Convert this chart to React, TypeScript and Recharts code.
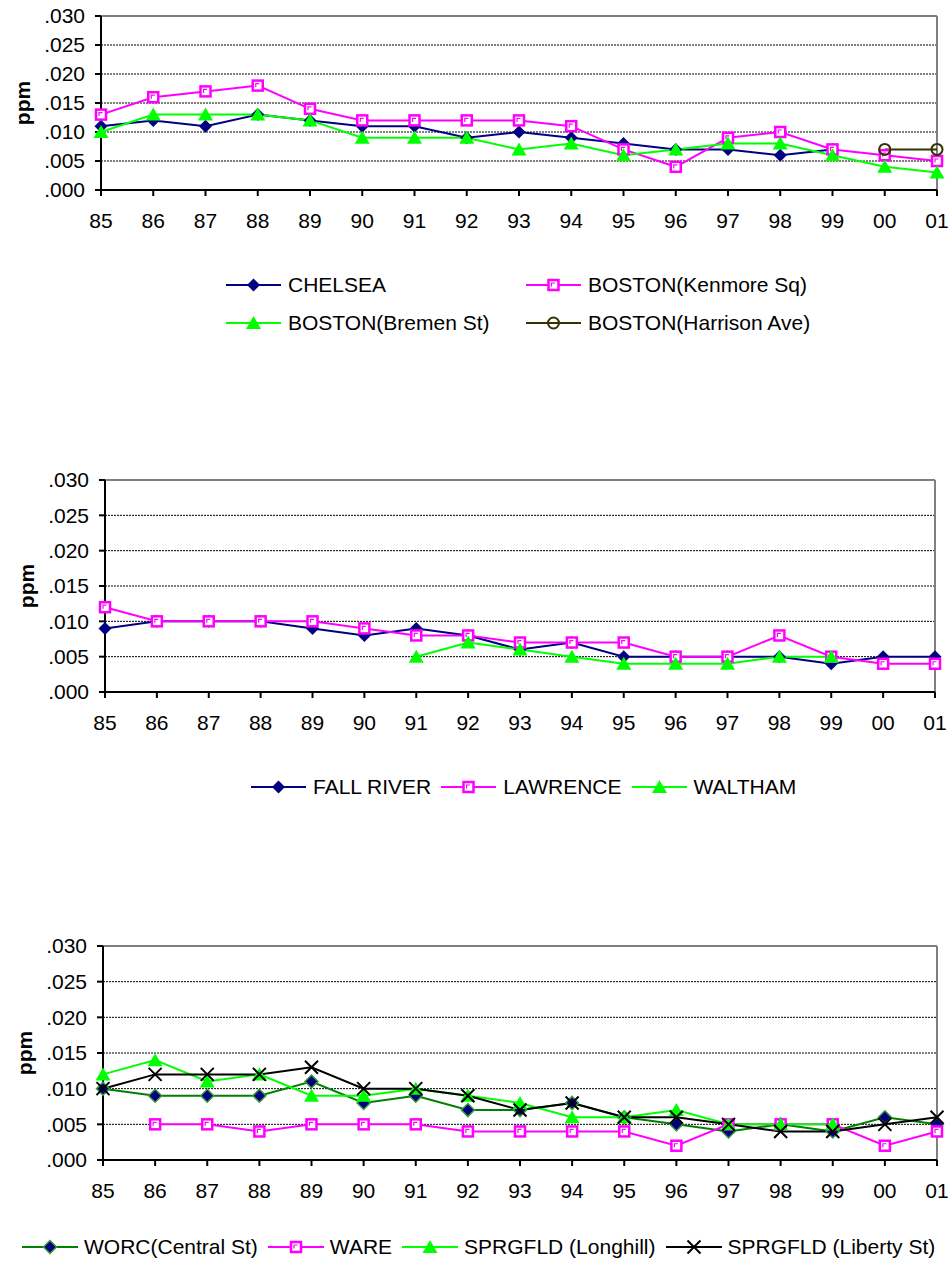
import React from 'react';
import { LineChart, Line, XAxis, YAxis, CartesianGrid, ReferenceLine } from 'recharts';

const FONT = "Arial, 'Liberation Sans', sans-serif";

const years = ['85', '86', '87', '88', '89', '90', '91', '92', '93', '94', '95', '96', '97', '98', '99', '00', '01'];
const ppmTicks = [0, 0.005, 0.01, 0.015, 0.02, 0.025, 0.03];

// Boston area sites
const chelsea = [0.011, 0.012, 0.011, 0.013, 0.012, 0.011, 0.011, 0.009, 0.010, 0.009, 0.008, 0.007, 0.007, 0.006, 0.007, null, null];
const kenmoreSq = [0.013, 0.016, 0.017, 0.018, 0.014, 0.012, 0.012, 0.012, 0.012, 0.011, 0.007, 0.004, 0.009, 0.010, 0.007, 0.006, 0.005];
const bremenSt = [0.010, 0.013, 0.013, 0.013, 0.012, 0.009, 0.009, 0.009, 0.007, 0.008, 0.006, 0.007, 0.008, 0.008, 0.006, 0.004, 0.003];
const harrisonAve = [null, null, null, null, null, null, null, null, null, null, null, null, null, null, null, 0.007, 0.007];

// Fall River / Lawrence / Waltham
const fallRiver = [0.009, 0.010, 0.010, 0.010, 0.009, 0.008, 0.009, 0.008, 0.006, 0.007, 0.005, 0.005, 0.005, 0.005, 0.004, 0.005, 0.005];
const lawrence = [0.012, 0.010, 0.010, 0.010, 0.010, 0.009, 0.008, 0.008, 0.007, 0.007, 0.007, 0.005, 0.005, 0.008, 0.005, 0.004, 0.004];
const waltham = [null, null, null, null, null, null, 0.005, 0.007, 0.006, 0.005, 0.004, 0.004, 0.004, 0.005, 0.005, null, null];

// Western / central sites
const worcCentral = [0.010, 0.009, 0.009, 0.009, 0.011, 0.008, 0.009, 0.007, 0.007, 0.008, 0.006, 0.005, 0.004, 0.005, 0.004, 0.006, 0.005];
const ware = [null, 0.005, 0.005, 0.004, 0.005, 0.005, 0.005, 0.004, 0.004, 0.004, 0.004, 0.002, 0.005, 0.005, 0.005, 0.002, 0.004];
const longhill = [0.012, 0.014, 0.011, 0.012, 0.009, 0.009, 0.010, 0.009, 0.008, 0.006, 0.006, 0.007, 0.005, 0.005, 0.005, null, null];
const libertySt = [0.010, 0.012, 0.012, 0.012, 0.013, 0.010, 0.010, 0.009, 0.007, 0.008, 0.006, 0.006, 0.005, 0.004, 0.004, 0.005, 0.006];

type Marker = 'diamond' | 'square' | 'triangle' | 'circle' | 'worc' | 'cross';

interface Series {
  key: string;
  name: string;
  color: string;
  marker: Marker;
  values: (number | null)[];
}

const bostonSeries: Series[] = [
  { key: 'chelsea', name: 'CHELSEA', color: '#000080', marker: 'diamond', values: chelsea },
  { key: 'kenmore', name: 'BOSTON(Kenmore Sq)', color: '#FF00FF', marker: 'square', values: kenmoreSq },
  { key: 'bremen', name: 'BOSTON(Bremen St)', color: '#00FF00', marker: 'triangle', values: bremenSt },
  { key: 'harrison', name: 'BOSTON(Harrison Ave)', color: '#333300', marker: 'circle', values: harrisonAve },
];

const midSeries: Series[] = [
  { key: 'fallRiver', name: 'FALL RIVER', color: '#000080', marker: 'diamond', values: fallRiver },
  { key: 'lawrence', name: 'LAWRENCE', color: '#FF00FF', marker: 'square', values: lawrence },
  { key: 'waltham', name: 'WALTHAM', color: '#00FF00', marker: 'triangle', values: waltham },
];

const westSeries: Series[] = [
  { key: 'worc', name: 'WORC(Central St)', color: '#008000', marker: 'worc', values: worcCentral },
  { key: 'ware', name: 'WARE', color: '#FF00FF', marker: 'square', values: ware },
  { key: 'longhill', name: 'SPRGFLD (Longhill)', color: '#00FF00', marker: 'triangle', values: longhill },
  { key: 'liberty', name: 'SPRGFLD (Liberty St)', color: '#000000', marker: 'cross', values: libertySt },
];

const fmtPpm = (v: number) => v.toFixed(3).replace(/^0/, '');

const drawMarker = (m: Marker, cx: number, cy: number, color: string) => {
  switch (m) {
    case 'diamond':
      return <polygon points={`${cx},${cy - 6.5} ${cx + 6.5},${cy} ${cx},${cy + 6.5} ${cx - 6.5},${cy}`} fill={color} />;
    case 'worc':
      return (
        <polygon
          points={`${cx},${cy - 6.5} ${cx + 6.5},${cy} ${cx},${cy + 6.5} ${cx - 6.5},${cy}`}
          fill="#000080"
          stroke="#3a9a3a"
          strokeWidth={1.5}
        />
      );
    case 'square':
      return (
        <g>
          <rect x={cx - 5} y={cy - 5} width={10} height={10} fill="#fff" stroke={color} strokeWidth={2.5} />
          <path d={`M${cx - 2} ${cy + 1.5}V${cy - 2}H${cx + 1.5}`} stroke={color} strokeWidth={1.2} fill="none" />
        </g>
      );
    case 'triangle':
      return <polygon points={`${cx},${cy - 7} ${cx + 7.5},${cy + 6} ${cx - 7.5},${cy + 6}`} fill={color} />;
    case 'circle':
      return <circle cx={cx} cy={cy} r={5.5} fill="none" stroke={color} strokeWidth={2} />;
    case 'cross':
      return (
        <path
          d={`M${cx - 6.5} ${cy - 6.5}L${cx + 6.5} ${cy + 6.5}M${cx + 6.5} ${cy - 6.5}L${cx - 6.5} ${cy + 6.5}`}
          stroke={color}
          strokeWidth={2}
        />
      );
    default:
      return null;
  }
};

// rotated unit label, placed from the axis box recharts hands in
const PpmLabel = (props: any) => {
  const vb = props.viewBox || {};
  const lx = (vb.x ?? 0) + (vb.width ?? 0) - 79;
  const ly = (vb.y ?? 0) + (vb.height ?? 0) / 2;
  return (
    <text
      x={lx}
      y={ly}
      transform={`rotate(-90 ${lx} ${ly})`}
      textAnchor="middle"
      dominantBaseline="central"
      fontFamily={FONT}
      fontWeight="bold"
      fontSize={21}
      fill="#000"
    >
      ppm
    </text>
  );
};

interface PanelProps {
  series: Series[];
  plotTop: number;
  plotBottom: number;
  plotLeft: number;
  plotRight: number;
}

const PAD = 15;
const AXIS_H = 45;

const Panel = ({ series, plotTop, plotBottom, plotLeft, plotRight }: PanelProps) => {
  const rows = years.map((year, i) => {
    const row: Record<string, any> = { year };
    series.forEach((s) => {
      row[s.key] = s.values[i];
    });
    return row;
  });
  const plotH = plotBottom - plotTop;

  return (
    <div style={{ position: 'absolute', left: 0, top: plotTop - PAD }}>
      <LineChart
        width={949}
        height={plotH + PAD + AXIS_H}
        data={rows}
        margin={{ top: PAD, right: 949 - plotRight, left: 0, bottom: 0 }}
      >
        <CartesianGrid vertical={false} stroke="#000" strokeDasharray="2 1" />
        <XAxis
          dataKey="year"
          height={AXIS_H}
          interval={0}
          tickSize={6}
          tickMargin={17}
          axisLine={{ stroke: '#000', strokeWidth: 2 }}
          tickLine={{ stroke: '#000', strokeWidth: 2 }}
          tick={{ fill: '#000', fontSize: 21, fontFamily: FONT }}
        />
        <YAxis
          width={plotLeft}
          domain={[0, 0.03]}
          ticks={ppmTicks}
          interval={0}
          tickFormatter={fmtPpm}
          tickSize={6}
          tickMargin={10}
          axisLine={{ stroke: '#000', strokeWidth: 2 }}
          tickLine={{ stroke: '#000', strokeWidth: 2 }}
          tick={{ fill: '#000', fontSize: 21, fontFamily: FONT }}
          label={{ content: PpmLabel }}
        />
        <ReferenceLine y={0.03} stroke="#808080" strokeWidth={2} />
        <ReferenceLine x="01" stroke="#808080" strokeWidth={2} />
        {series.map((s) => (
          <Line
            key={s.key}
            dataKey={s.key}
            name={s.name}
            type="linear"
            stroke={s.color}
            strokeWidth={2}
            activeDot={false}
            isAnimationActive={false}
            dot={(p: any) =>
              p.cx == null || p.cy == null || p.value == null ? (
                <g key={`${s.key}-${p.index}`} />
              ) : (
                <g key={`${s.key}-${p.index}`}>{drawMarker(s.marker, p.cx, p.cy, s.color)}</g>
              )
            }
          />
        ))}
      </LineChart>
    </div>
  );
};

const LegendKey = ({ s, lineWidth, gap }: { s: Series; lineWidth: number; gap: number }) => (
  <div style={{ display: 'flex', alignItems: 'center', height: 20 }}>
    <svg width={lineWidth} height={20} style={{ display: 'block' }}>
      <line x1={0} y1={10} x2={lineWidth} y2={10} stroke={s.color} strokeWidth={2} />
      {drawMarker(s.marker, lineWidth / 2, 10, s.color)}
    </svg>
    <span style={{ marginLeft: gap, fontSize: 21, fontFamily: FONT, color: '#000', whiteSpace: 'nowrap', lineHeight: '20px' }}>
      {s.name}
    </span>
  </div>
);

export default function App() {
  return (
    <div style={{ position: 'absolute', left: 0, top: 0, width: 949, height: 1271, background: '#fff' }}>
      <Panel series={bostonSeries} plotTop={16} plotBottom={190} plotLeft={101} plotRight={937} />
      <div
        style={{
          position: 'absolute',
          left: 226,
          top: 275,
          display: 'grid',
          gridTemplateColumns: '300px 300px',
          rowGap: 18,
        }}
      >
        {bostonSeries.map((s) => (
          <LegendKey key={s.key} s={s} lineWidth={55} gap={7} />
        ))}
      </div>

      <Panel series={midSeries} plotTop={480} plotBottom={692} plotLeft={105} plotRight={935} />
      <div style={{ position: 'absolute', left: 251, top: 777, display: 'flex', gap: 10 }}>
        {midSeries.map((s) => (
          <LegendKey key={s.key} s={s} lineWidth={55} gap={7} />
        ))}
      </div>

      <Panel series={westSeries} plotTop={946} plotBottom={1160} plotLeft={103} plotRight={937} />
      <div style={{ position: 'absolute', left: 22, top: 1237, display: 'flex', gap: 10 }}>
        {westSeries.map((s) => (
          <LegendKey key={s.key} s={s} lineWidth={56} gap={6} />
        ))}
      </div>
    </div>
  );
}
